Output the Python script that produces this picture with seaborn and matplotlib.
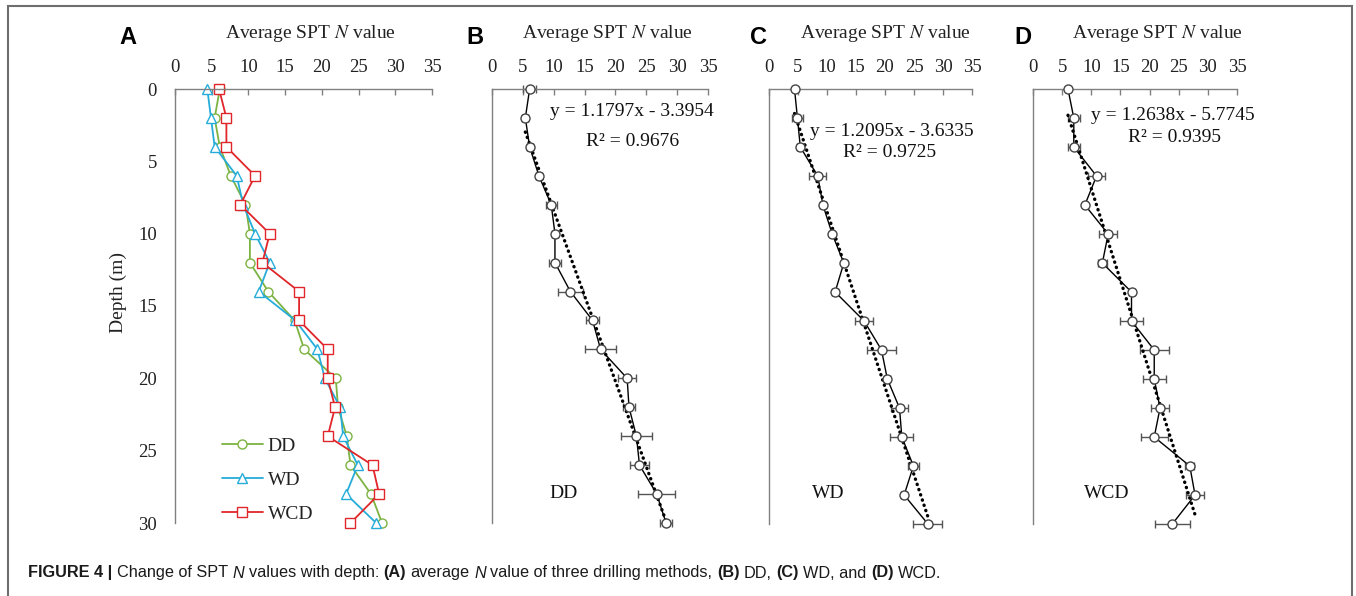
import numpy as np
import seaborn as sns
import matplotlib.pyplot as plt
from matplotlib import font_manager
from matplotlib.patches import Rectangle
from matplotlib.transforms import blended_transform_factory

# depth of each SPT test (m)
depth = [0, 2, 4, 6, 8, 10, 12, 14, 16, 18, 20, 22, 24, 26, 28, 30]

# average SPT N value for each drilling method
dd_n = [6.1, 5.4, 6.1, 7.6, 9.6, 10.2, 10.2, 12.7, 16.3, 17.6, 21.9, 22.2, 23.4, 23.9, 26.7, 28.2]
wd_n = [4.4, 4.9, 5.4, 8.4, 9.3, 10.9, 12.9, 11.4, 16.4, 19.4, 20.4, 22.5, 22.9, 24.9, 23.3, 27.4]
wcd_n = [6.0, 7.0, 7.0, 10.9, 8.9, 12.9, 11.9, 16.9, 16.9, 20.8, 20.8, 21.8, 20.8, 26.9, 27.8, 23.9]

# error bar half widths
dd_err = [1.0, 0.5, 0.5, 0.5, 0.9, 0.5, 1.0, 2.0, 1.0, 2.5, 1.5, 1.0, 2.5, 1.5, 3.0, 1.0]
wd_err = [0.3, 1.0, 0.5, 1.5, 0.5, 0.2, 0.3, 0.5, 1.5, 2.5, 0.5, 1.5, 2.0, 0.9, 0.5, 2.5]
wcd_err = [0.3, 1.0, 1.0, 1.5, 0.3, 1.5, 0.8, 0.5, 2.0, 2.5, 2.0, 1.5, 2.3, 0.8, 1.5, 3.0]

methods = ['DD', 'WD', 'WCD']
colors = ['#7cb342', '#26acd9', '#e0262a']
markers = ['o', '^', 's']

# linear trend (depth = a*N + b) and R2 from the chart
slopes = [1.1797, 1.2095, 1.2638]
intercepts = [-3.3954, -3.6335, -5.7745]
r2 = ['0.9676', '0.9725', '0.9395']

x_ticks = [0, 5, 10, 15, 20, 25, 30, 35]
y_ticks = [0, 5, 10, 15, 20, 25, 30]

W, H = 1356, 596
sns.set_theme(style='white')
plt.rcParams['font.family'] = ['Liberation Serif', 'DejaVu Serif']
plt.rcParams['mathtext.fontset'] = 'stix'

fig = plt.figure(figsize=(W / 100, H / 100), dpi=100)
fig.patch.set_facecolor('white')


def px_axes(l, t, r, b):
    return fig.add_axes([l / W, 1 - b / H, (r - l) / W, (b - t) / H])


def style_axes(ax, show_y):
    ax.set_xlim(0, 35)
    ax.set_ylim(30, 0)
    ax.set_xticks(x_ticks)
    ax.set_yticks(y_ticks)
    ax.xaxis.tick_top()
    for s in ['right', 'bottom']:
        ax.spines[s].set_visible(False)
    for s in ['left', 'top']:
        ax.spines[s].set_color('#808080')
        ax.spines[s].set_linewidth(1)
    ax.tick_params(axis='x', direction='in', length=4, width=1, color='#808080',
                   pad=9.5, labelsize=13.5, labelcolor='#222222')
    ax.tick_params(axis='y', direction='in', length=4, width=1, color='#808080',
                   pad=13, labelsize=13.5, labelcolor='#222222', labelleft=show_y)
    ax.set_xlabel('')
    ax.set_ylabel('')
    ax.set_facecolor('white')


axA = px_axes(175, 89, 432, 523)
axB = px_axes(492, 89, 708, 523)
axC = px_axes(769, 89, 972, 524)
axD = px_axes(1033, 89, 1237, 524)

# panel A: the three methods together
all_n = [dd_n, wd_n, wcd_n]
for name, vals, c, m in zip(methods, all_n, colors, markers):
    sns.lineplot(x=vals, y=depth, orient='y', sort=False, color=c, marker=m,
                 markersize=6.5, markerfacecolor='white', markeredgecolor=c,
                 markeredgewidth=1, linewidth=1.3, label=name, ax=axA)
for ln in axA.lines:
    ln.set_clip_on(False)
style_axes(axA, True)
leg = axA.legend(loc='center left', bbox_to_anchor=(222 / W, 1 - 480 / H),
                 bbox_transform=fig.transFigure, frameon=False, fontsize=14,
                 handlelength=2.1, handletextpad=0.25, labelspacing=0.85,
                 borderpad=0, borderaxespad=0)
for t in leg.get_texts():
    t.set_color('#222222')

# panels B-D: each method with error bars and trend line
all_err = [dd_err, wd_err, wcd_err]
eq_pos = [((632, 112), (633, 142)), ((892, 132), (890, 152)), ((1173, 115), (1174, 138))]
lab_pos = [(564, 493), (828, 493), (1107, 493)]
for i, ax in enumerate([axB, axC, axD]):
    vals = np.array(all_n[i])
    ax.errorbar(vals, depth, xerr=all_err[i], fmt='none', ecolor='#555555',
                elinewidth=1, capsize=3.2, capthick=1, zorder=2, clip_on=False)
    xs = np.array([vals.min(), vals.max()])
    ax.plot(xs, slopes[i] * xs + intercepts[i], color='black', lw=2.4,
            ls=(0, (0.1, 1.55)), dash_capstyle='round', zorder=2.5, clip_on=False)
    sns.lineplot(x=vals, y=depth, orient='y', sort=False, color='black', marker='o',
                 markersize=6.5, markerfacecolor='white', markeredgecolor='#444444',
                 markeredgewidth=1, linewidth=1, zorder=3, ax=ax)
    for ln in ax.lines:
        ln.set_clip_on(False)
    style_axes(ax, False)
    (ex, ey), (rx, ry) = eq_pos[i]
    sign = '-' if intercepts[i] < 0 else '+'
    fig.text(ex / W, 1 - ey / H, f'y = {slopes[i]:.4f}x {sign} {abs(intercepts[i]):.4f}',
             ha='center', va='center', fontsize=14, color='#111111')
    fig.text(rx / W, 1 - ry / H, f'R² = {r2[i]}', ha='center', va='center',
             fontsize=14, color='#111111')
    lx, ly = lab_pos[i]
    fig.text(lx / W, 1 - ly / H, methods[i], ha='center', va='center',
             fontsize=14, color='#111111')

# axis titles above each panel
title_x = [310, 607, 885, 1157]
for ax, tx in zip([axA, axB, axC, axD], title_x):
    fig.text(tx / W, 1 - 34 / H, 'Average SPT $N$ value', ha='center', va='center',
             fontsize=14, color='#222222')

fig.text(118 / W, 1 - 292 / H, 'Depth (m)', rotation=90, ha='center', va='center',
         fontsize=14, color='#222222')

# panel letters
for letter, lx in zip(['A', 'B', 'C', 'D'], [128, 475, 758, 1023]):
    fig.text(lx / W, 1 - 38 / H, letter, ha='center', va='center', fontsize=17,
             fontweight='bold', family='Liberation Sans', color='black')

# caption built from pieces so bold / italic parts can be mixed
names = {f.name for f in font_manager.fontManager.ttflist}
cap_font = 'Liberation Sans Narrow' if 'Liberation Sans Narrow' in names else 'Liberation Sans'
parts = [('FIGURE 4 |', 'bold', 'normal'), ('Change of SPT', 'normal', 'normal'),
         ('N', 'normal', 'italic'), ('values with depth:', 'normal', 'normal'),
         ('(A)', 'bold', 'normal'), ('average', 'normal', 'normal'),
         ('N', 'normal', 'italic'), ('value of three drilling methods,', 'normal', 'normal'),
         ('(B)', 'bold', 'normal'), ('DD,', 'normal', 'normal'),
         ('(C)', 'bold', 'normal'), ('WD, and', 'normal', 'normal'),
         ('(D)', 'bold', 'normal'), ('WCD.', 'normal', 'normal')]
renderer = fig.canvas.get_renderer()


def text_w(s, size, weight, style):
    t = fig.text(0, 0, s, fontsize=size, fontweight=weight, fontstyle=style, family=cap_font)
    w = t.get_window_extent(renderer).width
    t.remove()
    return w


def caption_width(size):
    sp = text_w('x x', size, 'normal', 'normal') - text_w('xx', size, 'normal', 'normal')
    total = sum(text_w(s, size, w, st) for s, w, st in parts) + sp * (len(parts) - 1)
    return total, sp


tot, _ = caption_width(10)
cap_size = 10 * 915 / tot
_, space = caption_width(cap_size)
x = 28
for s, w, st in parts:
    t = fig.text(x / W, 1 - 573 / H, s, fontsize=cap_size, fontweight=w, fontstyle=st,
                 family=cap_font, va='center', ha='left', color='#1a1a1a')
    x += t.get_window_extent(renderer).width + space

# thin frame around the whole figure
fig.add_artist(Rectangle((8 / W, -0.1), (1352 - 8) / W, 1.1 - 6 / H, fill=False,
                         edgecolor='#6e6e6e', linewidth=1.5, transform=fig.transFigure,
                         clip_on=False))

fig.savefig('out.png', dpi=100, facecolor='white')
